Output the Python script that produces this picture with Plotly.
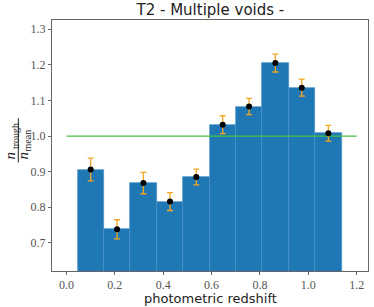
import plotly.graph_objects as go

# Data
z_centers = [0.100, 0.209, 0.318, 0.428, 0.537, 0.646, 0.755, 0.864, 0.973, 1.083]
ratio = [0.906, 0.738, 0.868, 0.816, 0.885, 1.032, 1.083, 1.205, 1.136, 1.008]
ratio_err = [0.032, 0.027, 0.030, 0.025, 0.022, 0.025, 0.023, 0.025, 0.024, 0.022]
bin_width = 0.109
ref_x = [0.0, 1.2]
ref_y = [1.0, 1.0]
x_ticks = [0.0, 0.2, 0.4, 0.6, 0.8, 1.0, 1.2]
y_ticks = [0.7, 0.8, 0.9, 1.0, 1.1, 1.2, 1.3]

fig = go.Figure()
fig.add_trace(go.Bar(
    x=z_centers, y=ratio, width=bin_width,
    marker=dict(color="#1f77b4", line=dict(color="#4790c6", width=0.7)),
    showlegend=False,
))
fig.add_trace(go.Scatter(
    x=ref_x, y=ref_y, mode="lines",
    line=dict(color="#44c244", width=1.2), showlegend=False,
))
fig.add_trace(go.Scatter(
    x=z_centers, y=ratio, mode="markers",
    marker=dict(color="black", size=6),
    error_y=dict(type="data", array=ratio_err, color="#f5a623", thickness=1.3, width=3),
    showlegend=False,
))

serif = "Liberation Serif, DejaVu Serif, serif"
axis_common = dict(
    showgrid=False, zeroline=False, showline=True, linecolor="#666", linewidth=1,
    mirror=True, ticks="outside", ticklen=3, tickcolor="#666", automargin=False,
    tickfont=dict(family=serif, size=12, color="#555"),
)
fig.update_xaxes(range=[-0.060, 1.247], tickvals=x_ticks, tickformat=".1f", **axis_common)
fig.update_yaxes(range=[0.621, 1.326], tickvals=y_ticks, tickformat=".1f", **axis_common)

fig.add_annotation(text="photometric redshift", x=0.5, xref="paper", y=0, yref="paper",
                   yshift=-27, yanchor="middle", showarrow=False,
                   font=dict(family="DejaVu Sans", size=13, color="#222"))

# y-axis label as a stacked fraction n_trough / n_mean (rotated)
def ylabel_piece(text, px, py, size, italic=False):
    t = f"<i>{text}</i>" if italic else text
    fig.add_annotation(text=t, x=0, xref="paper", y=1, yref="paper",
                       xanchor="center", yanchor="middle",
                       xshift=px - 52, yshift=-(py - 20), textangle=-90, showarrow=False,
                       font=dict(family=serif, size=size, color="#222"))

ylabel_piece("n", 9.5, 156, 15, italic=True)
ylabel_piece("trough", 15.0, 136, 10)
ylabel_piece("n", 22.5, 156, 15, italic=True)
ylabel_piece("mean", 26.5, 141, 10)
fig.add_shape(type="line", xref="paper", yref="y", x0=(18.3 - 52) / 316, x1=(18.3 - 52) / 316,
              y0=0.926, y1=1.050, line=dict(color="#222", width=1))

fig.update_layout(
    width=374, height=307,
    margin=dict(l=52, r=6, t=20, b=36),
    paper_bgcolor="white", plot_bgcolor="white",
    bargap=0,
    title=dict(text="T2 - Multiple voids -", x=0.5625, xanchor="center", y=0.967, yanchor="middle",
               font=dict(family="DejaVu Sans", size=15, color="#222")),
)

fig.write_html("out.html", config={"displayModeBar": False},
               post_script="document.body.style.margin='0';document.body.style.overflow='hidden';")
